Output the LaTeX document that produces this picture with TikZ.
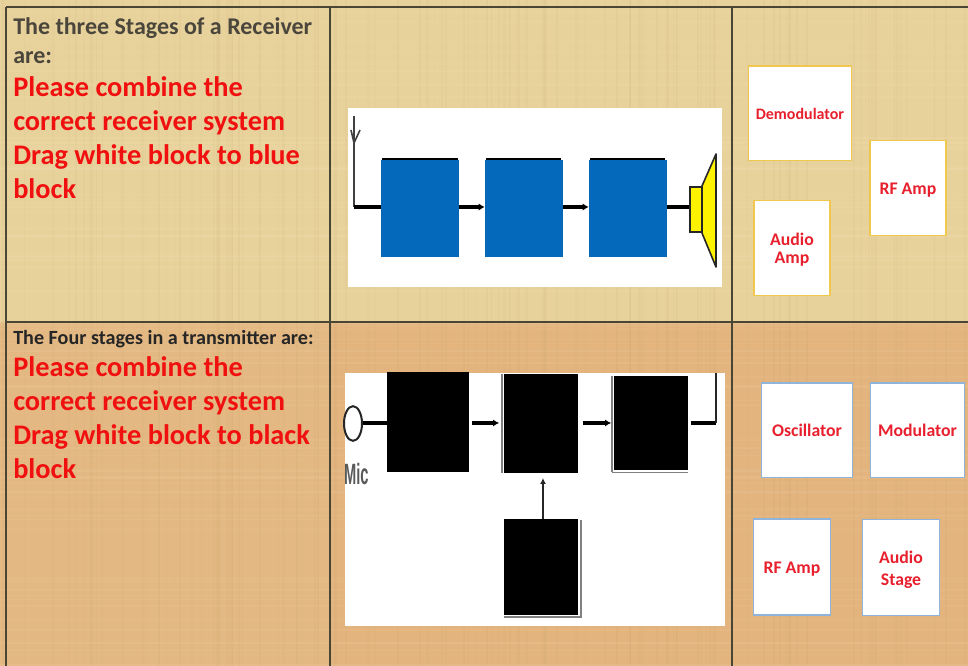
\documentclass[tikz,border=0pt]{standalone}
\usepackage{fontspec}
\setmainfont{Carlito}
\newfontfamily\micfont{Liberation Sans}
\usetikzlibrary{arrows.meta,shapes.geometric}
\definecolor{paperA}{HTML}{E8D29C}
\definecolor{paperB}{HTML}{E3B47E}
\definecolor{gridc}{HTML}{4A4636}
\definecolor{inkc}{HTML}{4A463C}
\definecolor{redc}{HTML}{F01010}
\definecolor{cardred}{HTML}{E8202E}
\definecolor{bluec}{HTML}{0569BB}
\definecolor{yellowb}{HTML}{F0C850}
\definecolor{blueb}{HTML}{8FB4DC}
\definecolor{texA}{HTML}{B89A5C}
\definecolor{texB}{HTML}{FFF2D0}
\newcommand{\nodepth}[1]{\raisebox{0pt}[\height][0pt]{\rule{0pt}{10pt}#1}}
\newcommand{\lowfirst}{\rule{0pt}{12.5pt}}
\tikzset{
  x=0.75pt,y=-0.75pt,
  gridline/.style={draw=gridc,line width=1pt},
  panel/.style={fill=white,draw=none},
  head/.style={anchor=base west,inner sep=0,font=\bfseries\fontsize{18}{18}\selectfont,text=inkc},
  prompt/.style={anchor=base west,inner sep=0,font=\bfseries\fontsize{21.25}{21.25}\selectfont,text=redc},
  bluebox/.style={fill=bluec,draw=none,inner sep=0,minimum width=58.5pt,minimum height=73pt},
  blackbox/.style={fill=black,draw=none,inner sep=0},
  card/.style={fill=white,line width=1pt,inner sep=0,align=center,text=cardred,font=\bfseries\fontsize{13.3}{13.5}\selectfont},
  wire/.style={draw=black,line width=2.4pt},
  wirearrow/.style={wire,-{Latex[length=4.5pt,width=5.5pt]}},
}
\begin{document}
\begin{tikzpicture}
\useasboundingbox (0,0) rectangle (968,666);
% backgrounds
\fill[paperA] (0,0) rectangle (968,322);
\fill[paperB!88!paperA] (0,322) rectangle (968,666);
\fill[paperB] (330,322) rectangle (968,666);
% paper texture
\pgfmathsetseed{4711}
\foreach \i in {1,...,110}{
  \pgfmathsetmacro{\tx}{rnd*968}
  \pgfmathsetmacro{\to}{0.03+rnd*0.07}
  \pgfmathsetmacro{\tw}{0.5+rnd*1.5}
  \draw[texA,opacity=\to,line width=\tw pt] (\tx,0) -- (\tx,666);
}
\foreach \i in {1,...,80}{
  \pgfmathsetmacro{\ty}{rnd*666}
  \pgfmathsetmacro{\to}{0.03+rnd*0.07}
  \pgfmathsetmacro{\tw}{0.5+rnd*1.5}
  \draw[texB,opacity=\to,line width=\tw pt] (0,\ty) -- (968,\ty);
}
% grid
\draw[gridline] (6,7) -- (968,7);
\draw[gridline] (6,322) -- (968,322);
\draw[gridline] (6,7) -- (6,666);
\draw[gridline] (330,7) -- (330,666);
\draw[gridline] (732,7) -- (732,666);
% left text
\node[head] (h1a) at (13,35) {The three Stages of a Receiver};
\node[head] (h1b) at (13,63.5) {are:};
\node[prompt] (p1a) at (13,97) {Please combine the};
\node[prompt] (p1b) at (13,131) {correct receiver system};
\node[prompt] (p1c) at (13,165) {Drag white block to blue};
\node[prompt] (p1d) at (13,199) {block};
\node[head,font=\bfseries\fontsize{15.1}{15}\selectfont,text=black!85] (h2) at (13,344.5) {The Four stages in a transmitter are:};
\node[prompt] (p2a) at (13,377) {Please combine the};
\node[prompt] (p2b) at (13,411) {correct receiver system};
\node[prompt] (p2c) at (13,445) {Drag white block to black};
\node[prompt] (p2d) at (13,479) {block};
% receiver panel
\fill[panel] (348,108) rectangle (722,287);
\node[bluebox] (r1) at (420,208.5) {};
\node[bluebox] (r2) at (524,208.5) {};
\node[bluebox] (r3) at (628,208.5) {};
\draw[black,line width=1.4pt] (382,159) -- (458,159);
\draw[black,line width=1.4pt] (486,159) -- (561,159);
\draw[black,line width=1.4pt] (590,159) -- (665,159);
\coordinate (antTop) at (354,116);
\coordinate (antFoot) at (354,207);
\draw[draw=black!75,line width=1.2pt] (antTop) -- (antFoot);
\draw[draw=black!75,line width=1.2pt] (351,130) -- (354,143) -- (360,130);
\draw[wire] (antFoot) -- (antFoot -| r1.west);
\draw[wirearrow] (antFoot -| r1.east) -- (antFoot -| r2.west);
\draw[wirearrow] (antFoot -| r2.east) -- (antFoot -| r3.west);
\draw[fill=yellow,draw=black!85,line width=1.2pt,line join=round] (702,186) -- (716,154) -- (716,267) -- (702,233) -- cycle;
\node[fill=yellow,draw=black!85,line width=1.8pt,inner sep=0,minimum width=9pt,minimum height=33.5pt] (coil) at (696,209.5) {};
\draw[wire] (antFoot -| r3.east) -- (antFoot -| coil.west);
% transmitter panel
\fill[panel] (345,373) rectangle (725,626);
\node[blackbox,minimum width=61.5pt,minimum height=75.5pt] (t1) at (428,422) {};
\node[blackbox,minimum width=55.5pt,minimum height=74pt] (t2) at (540.5,423.5) {};
\node[blackbox,minimum width=55.5pt,minimum height=70.5pt] (t3) at (651,423) {};
\node[blackbox,minimum width=55.5pt,minimum height=71.5pt] (t4) at (541,567) {};
\draw[gray,line width=0.8pt] (502,374) -- (502,473);
\draw[gray,line width=0.8pt] (612,376) -- (612,472.5);
\draw[gray,line width=1.3pt] (612,472.5) -- (688,472.5);
\draw[gray,line width=0.8pt] (504,617) -- (581,617) -- (581,520);
\node[ellipse,draw=black!85,fill=white,line width=1.5pt,inner sep=0,minimum width=13.5pt,minimum height=26pt] (mic) at (353,423.5) {};
\node[anchor=base west,inner sep=0,font=\micfont\bfseries\fontsize{22}{22}\selectfont,text=black!65,xscale=0.5] (micl) at (344,485) {Mic};
\coordinate (sigRow) at (353,423);
\coordinate (t1out) at (472,423);
\coordinate (t2in) at (499,423);
\coordinate (t2out) at (583,423);
\coordinate (t3in) at (611,423);
\coordinate (t3out) at (691,423);
\coordinate (outCorner) at (716,423);
\coordinate (outTop) at (716,373);
\coordinate (upTip) at (543,478);
\draw[wire] (mic.east |- sigRow) -- (sigRow -| t1.west);
\draw[wirearrow] (t1out) -- (t2in);
\draw[wirearrow] (t2out) -- (t3in);
\draw[wire] (t3out) -- (outCorner);
\draw[draw=black!85,line width=1.2pt] (outCorner) -- (outTop);
\draw[-{Latex[length=4.5pt,width=4.5pt]},draw=black!85,line width=1.2pt] (upTip |- t4.north) -- (upTip);
% cards
\node[card,draw=yellowb,font=\bfseries\fontsize{12}{13.5}\selectfont,minimum width=77pt,minimum height=71pt] (c1) at (800,113.5) {Demodulator};
\node[card,draw=yellowb,minimum width=57pt,minimum height=71pt] (c2) at (908,188) {\nodepth{RF Amp}};
\node[card,draw=yellowb,minimum width=57pt,minimum height=71pt] (c3) at (792,248) {\lowfirst Audio\\Amp};
\node[card,draw=blueb,minimum width=68pt,minimum height=71pt] (c4) at (807,430.5) {Oscillator};
\node[card,draw=blueb,minimum width=70.5pt,minimum height=71pt] (c5) at (917.5,430.5) {Modulator};
\node[card,draw=blueb,minimum width=58pt,minimum height=72pt] (c6) at (792,567) {\nodepth{RF Amp}};
\node[card,draw=blueb,font=\bfseries\fontsize{13.3}{16.5}\selectfont,minimum width=58pt,minimum height=72pt] (c7) at (901,567.5) {\lowfirst Audio\\Stage};
\end{tikzpicture}
\end{document}
